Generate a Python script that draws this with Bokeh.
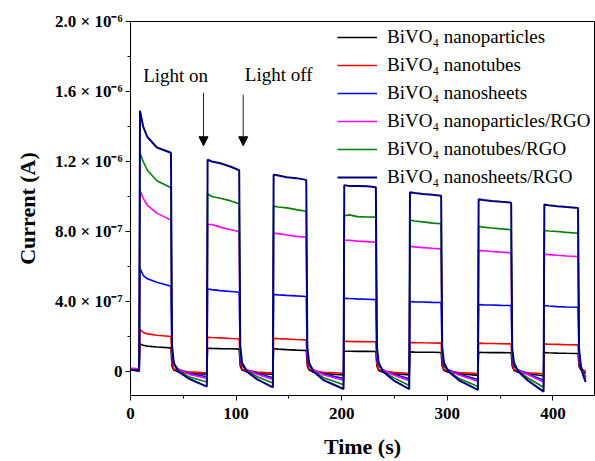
from bokeh.plotting import figure
from bokeh.models import FixedTicker, Legend, LegendItem, Label, Arrow, NormalHead, Range1d
from bokeh.embed import file_html
from bokeh.resources import INLINE

# time (s)
time_s = [
    0.0, 8.2,
    9.0, 12.0, 16.0, 25.0, 38.3, 39.3, 41.0, 45.0, 55.0,
    72.3, 73.0, 77.0, 85.0, 95.0, 102.9, 103.9, 105.6, 110.0, 120.0,
    134.8, 135.5, 140.0, 148.0, 157.0, 166.4, 167.4, 169.1, 173.0, 183.0,
    201.7, 202.4, 207.0, 215.0, 224.0, 232.3, 233.3, 235.0, 239.0, 249.0,
    263.9, 264.6, 269.0, 277.0, 286.0, 294.1, 295.1, 296.8, 301.0, 311.0,
    328.9, 329.6, 334.0, 342.0, 351.0, 360.4, 361.4, 363.1, 367.0, 377.0,
    391.1, 391.8, 396.0, 404.0, 413.0, 423.7, 424.7, 426.4, 428.5, 431.0]

# current in units of 1e-6 A
np_bare = [
    0.01, 0.005,
    0.158, 0.15, 0.145, 0.14, 0.135, 0.03, 0.008, -0.002, -0.01,
    -0.015, 0.133, 0.132, 0.131, 0.13, 0.128, 0.03, 0.008, -0.002, -0.01,
    -0.017, 0.13, 0.128, 0.125, 0.122, 0.12, 0.03, 0.008, -0.003, -0.012,
    -0.02, 0.116, 0.116, 0.115, 0.115, 0.114, 0.03, 0.006, -0.004, -0.012,
    -0.02, 0.112, 0.111, 0.11, 0.11, 0.109, 0.03, 0.006, -0.004, -0.013,
    -0.022, 0.11, 0.109, 0.108, 0.108, 0.107, 0.03, 0.006, -0.004, -0.014,
    -0.024, 0.109, 0.107, 0.105, 0.104, 0.103, 0.03, 0.01, 0.0, -0.01]

nt_bare = [
    0.01, 0.005,
    0.24, 0.225, 0.215, 0.207, 0.20, 0.05, 0.015, 0.005, -0.002,
    -0.008, 0.196, 0.194, 0.192, 0.189, 0.187, 0.05, 0.015, 0.005, -0.003,
    -0.009, 0.19, 0.188, 0.186, 0.183, 0.181, 0.045, 0.015, 0.003, -0.004,
    -0.01, 0.173, 0.172, 0.171, 0.17, 0.17, 0.045, 0.012, 0.002, -0.005,
    -0.011, 0.166, 0.165, 0.164, 0.163, 0.162, 0.045, 0.012, 0.002, -0.006,
    -0.012, 0.162, 0.161, 0.16, 0.159, 0.158, 0.045, 0.012, 0.0, -0.007,
    -0.013, 0.158, 0.156, 0.155, 0.153, 0.152, 0.045, 0.02, 0.01, 0.0]

ns_bare = [
    0.01, 0.005,
    0.59, 0.55, 0.53, 0.51, 0.487, 0.07, 0.04, 0.015, -0.01,
    -0.03, 0.472, 0.468, 0.462, 0.457, 0.453, 0.07, 0.035, 0.01, -0.01,
    -0.035, 0.44, 0.438, 0.435, 0.432, 0.429, 0.07, 0.035, 0.01, -0.015,
    -0.04, 0.419, 0.417, 0.415, 0.413, 0.411, 0.065, 0.035, 0.01, -0.015,
    -0.042, 0.40, 0.398, 0.397, 0.395, 0.394, 0.065, 0.03, 0.01, -0.015,
    -0.045, 0.383, 0.381, 0.38, 0.378, 0.377, 0.065, 0.03, 0.01, -0.015,
    -0.05, 0.377, 0.374, 0.371, 0.369, 0.367, 0.065, 0.03, 0.0, -0.03]

np_rgo = [
    0.02, 0.015,
    1.035, 0.99, 0.95, 0.905, 0.865, 0.10, 0.045, 0.015, -0.015,
    -0.04, 0.84, 0.84, 0.825, 0.81, 0.80, 0.10, 0.045, 0.01, -0.015,
    -0.045, 0.79, 0.788, 0.78, 0.772, 0.767, 0.10, 0.04, 0.01, -0.02,
    -0.05, 0.75, 0.75, 0.745, 0.742, 0.739, 0.09, 0.04, 0.01, -0.02,
    -0.052, 0.715, 0.712, 0.708, 0.704, 0.701, 0.09, 0.04, 0.005, -0.02,
    -0.055, 0.692, 0.69, 0.686, 0.682, 0.678, 0.09, 0.04, 0.005, -0.02,
    -0.06, 0.67, 0.668, 0.664, 0.66, 0.657, 0.09, 0.03, -0.005, -0.035]

nt_rgo = [
    0.01, 0.005,
    1.25, 1.20, 1.15, 1.09, 1.05, 0.12, 0.045, 0.005, -0.03,
    -0.06, 1.015, 1.00, 0.99, 0.975, 0.958, 0.12, 0.045, 0.005, -0.03,
    -0.065, 0.945, 0.94, 0.935, 0.925, 0.916, 0.12, 0.045, 0.0, -0.035,
    -0.075, 0.89, 0.895, 0.885, 0.883, 0.882, 0.12, 0.04, 0.0, -0.035,
    -0.08, 0.865, 0.86, 0.855, 0.848, 0.844, 0.11, 0.04, 0.0, -0.04,
    -0.085, 0.83, 0.825, 0.82, 0.815, 0.81, 0.11, 0.04, 0.0, -0.04,
    -0.09, 0.806, 0.803, 0.80, 0.795, 0.79, 0.11, 0.03, -0.01, -0.045]

ns_rgo = [
    0.01, 0.005,
    1.49, 1.40, 1.34, 1.28, 1.25, 0.15, 0.05, 0.00, -0.04,
    -0.086, 1.21, 1.20, 1.19, 1.17, 1.15, 0.15, 0.05, 0.00, -0.045,
    -0.09, 1.125, 1.12, 1.11, 1.105, 1.095, 0.14, 0.05, 0.00, -0.05,
    -0.10, 1.065, 1.06, 1.06, 1.058, 1.053, 0.14, 0.05, 0.00, -0.05,
    -0.10, 1.025, 1.02, 1.015, 1.01, 1.005, 0.14, 0.05, 0.00, -0.05,
    -0.105, 0.985, 0.98, 0.975, 0.97, 0.965, 0.13, 0.05, 0.00, -0.055,
    -0.115, 0.955, 0.95, 0.945, 0.94, 0.935, 0.13, 0.03, -0.02, -0.06]

series_names = ["BiVO\u2084 nanoparticles", "BiVO\u2084 nanotubes", "BiVO\u2084 nanosheets",
                "BiVO\u2084 nanoparticles/RGO", "BiVO\u2084 nanotubes/RGO", "BiVO\u2084 nanosheets/RGO"]
series_values = [np_bare, nt_bare, ns_bare, np_rgo, nt_rgo, ns_rgo]
series_colors = ["#000000", "#ff0000", "#0000ff", "#ff00ff", "#008000", "#000080"]

y_ticks = [0.0, 0.4, 0.8, 1.2, 1.6, 2.0]
y_tick_labels = ["0", "4.0 \u00d7 10\u207b\u2077", "8.0 \u00d7 10\u207b\u2077",
                 "1.2 \u00d7 10\u207b\u2076", "1.6 \u00d7 10\u207b\u2076", "2.0 \u00d7 10\u207b\u2076"]
y_minor = [0.2, 0.6, 1.0, 1.4, 1.8]
x_ticks = [0, 100, 200, 300, 400]
x_minor = [50, 150, 250, 350]

arrow_times = [69.1, 106.7]

FONT = "Liberation Serif"

p = figure(width=595, height=461, output_backend="svg", toolbar_location=None,
           x_range=Range1d(0, 439.3), y_range=Range1d(-0.137, 2.0),
           min_border_left=130, min_border_right=1, min_border_top=21, min_border_bottom=66)
p.background_fill_color = "white"
p.border_fill_color = "white"
p.grid.visible = False
p.outline_line_color = "black"
p.outline_line_width = 1

p.xaxis.ticker = FixedTicker(ticks=x_ticks, minor_ticks=x_minor)
p.yaxis.ticker = FixedTicker(ticks=y_ticks, minor_ticks=y_minor)
p.yaxis.major_label_overrides = {t: s for t, s in zip(y_ticks, y_tick_labels)}
p.xaxis.axis_label = "Time (s)"
p.yaxis.axis_label = "Current (A)"
for ax in (p.xaxis, p.yaxis):
    ax.axis_line_color = "black"
    ax.major_tick_line_color = "black"
    ax.minor_tick_line_color = "black"
    ax.major_tick_in = 0
    ax.major_tick_out = 5
    ax.minor_tick_in = 0
    ax.minor_tick_out = 3
    ax.major_label_text_font = FONT
    ax.major_label_text_font_style = "bold"
    ax.major_label_text_font_size = "17px"
    ax.major_label_text_color = "black"
    ax.axis_label_text_font = FONT
    ax.axis_label_text_font_style = "bold"
    ax.axis_label_text_font_size = "22px"
    ax.axis_label_text_color = "black"
p.xaxis.major_label_standoff = 7
p.xaxis.axis_label_standoff = 12
p.yaxis.major_label_standoff = 3
p.yaxis.axis_label_standoff = 12

items = []
for name, vals, col in zip(series_names, series_values, series_colors):
    r = p.line(time_s, vals, line_color=col, line_width=1.6 if col != "#000080" else 2.0)
    items.append(LegendItem(label=name, renderers=[r]))

leg = Legend(items=items, location=(207, 204), border_line_color=None,
             background_fill_alpha=0.0, padding=0, spacing=0,
             glyph_width=40, glyph_height=28, label_height=28, label_standoff=10,
             label_text_font=FONT, label_text_font_size="19px", label_text_color="black")
p.add_layout(leg)

for t, y0 in zip(arrow_times, [1.593, 1.581]):
    p.add_layout(Arrow(x_start=t, y_start=y0, x_end=t, y_end=1.29,
                       line_color="#222222", line_width=1,
                       end=NormalHead(size=9, fill_color="black", line_color="black")))

p.add_layout(Label(x=12.0, y=1.69, text="Light on", text_font=FONT, text_font_size="19px",
                   text_color="black", text_baseline="alphabetic"))
p.add_layout(Label(x=108.2, y=1.70, text="Light off", text_font=FONT, text_font_size="19px",
                   text_color="black", text_baseline="alphabetic"))

open("out.html", "w").write(file_html(p, INLINE))
